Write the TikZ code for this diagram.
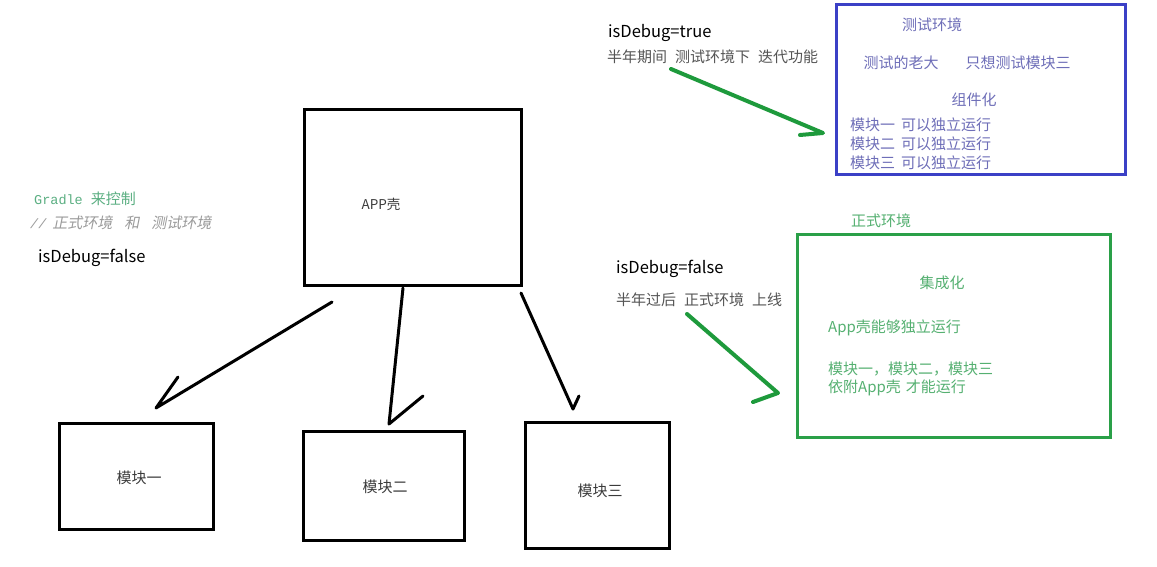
\documentclass[tikz,border=0pt]{standalone}
\usepackage{fontspec}
\setmainfont{Liberation Sans}
\newfontfamily\cjk{Noto Sans CJK SC}
\newfontfamily\codefont{Liberation Mono}
\definecolor{boxblue}{HTML}{3B40C6}
\definecolor{txtblue}{HTML}{6E6EB8}
\definecolor{boxgreen}{HTML}{2AA048}
\definecolor{txtgreen}{HTML}{55B071}
\definecolor{codegreen}{HTML}{5BAF82}
\definecolor{arrgreen}{HTML}{1E9A3C}
\definecolor{notegray}{HTML}{555555}
\definecolor{commentgray}{HTML}{9A9A9A}
\begin{document}
\begin{tikzpicture}[x=1pt,y=-1pt,
  blackbox/.style={draw=black,line width=3pt,fill=white,inner sep=0pt},
  blacktxt/.style={font=\cjk\fontsize{15}{17}\selectfont,text=notegray!70!black},
  handarrow/.style={draw=black,line width=3pt,line cap=round,line join=round},
  greenarrow/.style={draw=arrgreen,line width=4pt,line cap=round,line join=round},
  note/.style={font=\cjk\fontsize{15}{17}\selectfont,text=notegray,anchor=west,inner sep=0pt},
  flag/.style={font=\cjk\fontsize{16.5}{19}\selectfont,text=black,anchor=west,inner sep=0pt},
  bluetxt/.style={font=\cjk\fontsize{15}{17}\selectfont,text=txtblue,inner sep=0pt},
  greentxt/.style={font=\cjk\fontsize{15}{17}\selectfont,text=txtgreen,inner sep=0pt}]
\useasboundingbox (0,0) rectangle (1157,567);
\fill[white] (0,0) rectangle (1157,567);

% app shell and the three modules
\node[blackbox,minimum width=217pt,minimum height=175pt] (app) at (412.5,197.5) {};
\node[blacktxt,font=\cjk\fontsize{13.5}{16}\selectfont] (apptxt) at (381,204) {APP壳};
\node[blackbox,minimum width=154pt,minimum height=106pt] (m1) at (136,476) {};
\node[blacktxt] (m1txt) at (139,478) {模块一};
\node[blackbox,minimum width=161pt,minimum height=109pt] (m2) at (383.5,485.5) {};
\node[blacktxt] (m2txt) at (385,487) {模块二};
\node[blackbox,minimum width=144pt,minimum height=126pt] (m3) at (597,485) {};
\node[blacktxt] (m3txt) at (600,491) {模块三};

% hand drawn arrows from the shell to the modules
\coordinate (a1s) at (332,302);
\coordinate (a1e) at (156,408);
\coordinate (a1b) at (178,377);
\coordinate (a2s) at (403,288);
\coordinate (a2e) at (389,424);
\coordinate (a2b) at (423,396);
\coordinate (a3s) at (521,293);
\coordinate (a3e) at (573,409);
\coordinate (a3b) at (579,396);
\draw[handarrow] (a1s) -- (a1e) -- (a1b);
\draw[handarrow] (a2s) -- (a2e) -- (a2b);
\draw[handarrow] (a3s) -- (a3e) -- (a3b);

% build switch notes on the left
\node[anchor=west,inner sep=0pt,text=codegreen] (gradle) at (34,199)
  {\codefont\fontsize{13.5}{15}\selectfont Gradle {\cjk\fontsize{15}{17}\selectfont 来控制}};
\node[anchor=west,inner sep=0pt,text=commentgray] (comment) at (30,223)
  {\codefont\fontsize{13.5}{15}\selectfont\itshape //{\cjk\fontsize{15}{17}\selectfont\addfontfeature{FakeSlant=0.2}\hspace{6pt}正式环境\hspace{12pt}和\hspace{12pt}测试环境}};
\node[flag] (flagleft) at (38,258) {isDebug=false};

% test environment
\node[draw=boxblue,line width=3pt,minimum width=289pt,minimum height=170pt,inner sep=0pt] (testbox) at (980.5,90) {};
\node[bluetxt] (t1) at (932,25) {测试环境};
\node[bluetxt] (t2) at (901,63) {测试的老大};
\node[bluetxt] (t3) at (1018,63) {只想测试模块三};
\node[bluetxt] (t4) at (974,100) {组件化};
\node[bluetxt,anchor=west] (t5) at (850,125) {模块一\hspace{6pt}可以独立运行};
\node[bluetxt,anchor=west] (t6) at (850,144) {模块二\hspace{6pt}可以独立运行};
\node[bluetxt,anchor=west] (t7) at (850,163) {模块三\hspace{6pt}可以独立运行};

\node[flag] (flagtrue) at (608,33) {isDebug=true};
\node[note] (notetrue) at (607,57) {半年期间\hspace{8pt}测试环境下\hspace{8pt}迭代功能};
\coordinate (g1s) at (671,69);
\coordinate (g1e) at (823,133);
\coordinate (g1b) at (800,135);
\draw[greenarrow] (g1s) -- (g1e) -- (g1b);

% production environment
\node[text=txtgreen,font=\cjk\fontsize{15}{17}\selectfont,anchor=west,inner sep=0pt] (prodlabel) at (851,221) {正式环境};
\node[draw=boxgreen,line width=3pt,minimum width=313pt,minimum height=203pt,inner sep=0pt] (prodbox) at (953.5,335.5) {};
\node[greentxt] (p1) at (942,283) {集成化};
\node[greentxt,anchor=west] (p2) at (828,328) {App壳能够独立运行};
\node[greentxt,anchor=west] (p3) at (828,369) {模块一，模块二，模块三};
\node[greentxt,anchor=west] (p4) at (828,388) {依附App壳\hspace{5pt}才能运行};

\node[flag] (flagfalse) at (616,269) {isDebug=false};
\node[note] (notefalse) at (616,300) {半年过后\hspace{8pt}正式环境\hspace{8pt}上线};
\coordinate (g2s) at (687,314);
\coordinate (g2e) at (778,393);
\coordinate (g2b) at (753,402);
\draw[greenarrow] (g2s) -- (g2e) -- (g2b);
\end{tikzpicture}
\end{document}
